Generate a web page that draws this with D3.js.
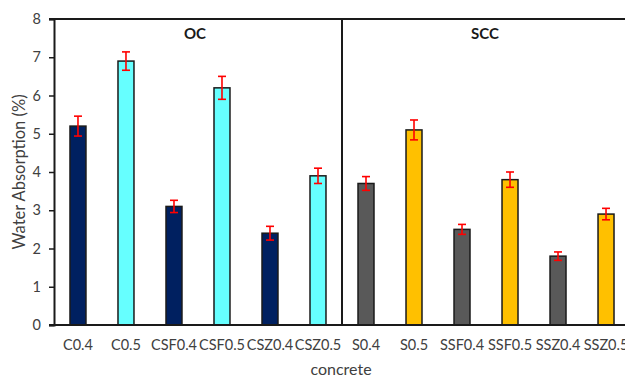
<!DOCTYPE html>
<html><head><meta charset="utf-8">
<script src="https://cdn.jsdelivr.net/npm/d3@7"></script>
<style>
body{margin:0;background:#fff;}
text{font-family:"Lato","Liberation Sans",sans-serif;}
</style></head>
<body><svg id="c" width="625" height="378"></svg>
<script>
const categories = ["C0.4","C0.5","CSF0.4","CSF0.5","CSZ0.4","CSZ0.5","S0.4","S0.5","SSF0.4","SSF0.5","SSZ0.4","SSZ0.5"];
const values = [5.2,6.9,3.1,6.2,2.4,3.9,3.7,5.1,2.5,3.8,1.8,2.9];
const errors = [0.26,0.24,0.16,0.3,0.18,0.2,0.18,0.26,0.13,0.2,0.11,0.15];
const colors = ["#002060","#66FFFF","#002060","#66FFFF","#002060","#66FFFF","#595959","#FFC000","#595959","#FFC000","#595959","#FFC000"];
const groupLabels = ["OC","SCC"];
const yTicks = [0,1,2,3,4,5,6,7,8];

const svg = d3.select("#c");
const x = d3.scaleBand().domain(categories).range([54,630]).paddingInner(0.667).paddingOuter(0.333);
const y = d3.scaleLinear().domain([0,8]).range([325,19]);

// Bars
svg.append("g").selectAll("rect").data(categories).join("rect")
  .attr("x", d=>x(d)).attr("width", x.bandwidth())
  .attr("y", (d,i)=>y(values[i])).attr("height",(d,i)=>y(0)-y(values[i]))
  .attr("fill",(d,i)=>colors[i]).attr("stroke","#1a1a1a").attr("stroke-width",1.5);

// Error bars
const eg = svg.append("g").attr("stroke","#FF0000").attr("stroke-width",1.6);
categories.forEach((c,i)=>{
  const cx = x(c)+x.bandwidth()/2;
  const t = y(values[i]+errors[i]), b = y(values[i]-errors[i]);
  eg.append("line").attr("x1",cx).attr("x2",cx).attr("y1",t).attr("y2",b);
  eg.append("line").attr("x1",cx-4).attr("x2",cx+4).attr("y1",t).attr("y2",t);
  eg.append("line").attr("x1",cx-4).attr("x2",cx+4).attr("y1",b).attr("y2",b);
});

// Y axis
const ya = svg.append("g").attr("transform","translate(54,0)")
  .call(d3.axisLeft(y).tickValues(yTicks).tickSize(5).tickPadding(8).tickFormat(d3.format("d")));
ya.select(".domain").attr("stroke","#1a1a1a").attr("stroke-width",2);
ya.selectAll(".tick line").attr("stroke","#1a1a1a").attr("stroke-width",1.5);
ya.selectAll("text").attr("font-size",14.5).attr("fill","#404040").attr("font-family","Lato, Liberation Sans, sans-serif");

// X axis baseline
svg.append("line").attr("x1",49).attr("x2",625).attr("y1",y(0)).attr("y2",y(0)).attr("stroke","#1a1a1a").attr("stroke-width",2);
// Top line
svg.append("line").attr("x1",49).attr("x2",625).attr("y1",y(8)).attr("y2",y(8)).attr("stroke","#1a1a1a").attr("stroke-width",2);
// Divider
const divX = x(categories[6]) - x.step()*x.paddingInner()/2;
svg.append("line").attr("x1",divX).attr("x2",divX).attr("y1",y(8)).attr("y2",y(0)).attr("stroke","#1a1a1a").attr("stroke-width",2);

// X labels
svg.append("g").selectAll("text").data(categories).join("text")
  .attr("x", d=>x(d)+x.bandwidth()/2).attr("y",350)
  .attr("text-anchor","middle").attr("font-size",14.5).attr("fill","#404040").text(d=>d);

// Group labels
svg.append("text").attr("x",195).attr("y",39).attr("text-anchor","middle").attr("font-size",15).attr("font-weight","bold").attr("fill","#1a1a1a").text(groupLabels[0]);
svg.append("text").attr("x",485).attr("y",39).attr("text-anchor","middle").attr("font-size",15).attr("font-weight","bold").attr("fill","#1a1a1a").text(groupLabels[1]);

// Axis titles
svg.append("text").attr("x",341).attr("y",375).attr("text-anchor","middle").attr("font-size",16).attr("fill","#404040").text("concrete");
svg.append("text").attr("transform","translate(25,172) rotate(-90)").attr("text-anchor","middle").attr("font-size",16.5).attr("fill","#404040").text("Water Absorption (%)");
</script></body></html>
